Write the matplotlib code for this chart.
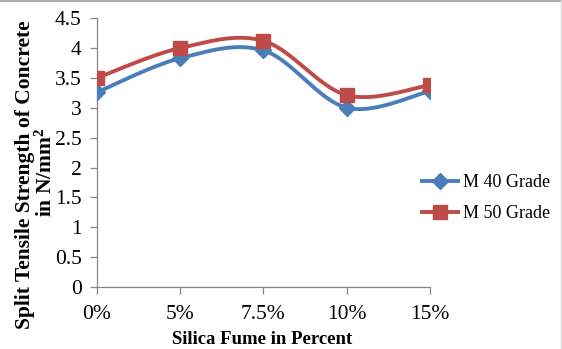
import numpy as np
import matplotlib
matplotlib.use("Agg")
import matplotlib.pyplot as plt
from matplotlib.lines import Line2D

categories = ["0%", "5%", "7.5%", "10%", "15%"]
m40 = [3.26, 3.83, 3.96, 3.00, 3.28]
m50 = [3.50, 4.00, 4.12, 3.21, 3.38]
series_names = ["M 40 Grade", "M 50 Grade"]
colors = ["#4A7EBB", "#BE4B48"]
markers = ["D", "s"]


def smooth(xs, ys, n=40):
    """Cubic Bezier smoothing through each point (Catmull-Rom tangents)."""
    xs = np.asarray(xs, float)
    ys = np.asarray(ys, float)
    px, py = [], []
    m = len(xs)
    for i in range(m - 1):
        x0, y0 = xs[max(i - 1, 0)], ys[max(i - 1, 0)]
        x1, y1 = xs[i], ys[i]
        x2, y2 = xs[i + 1], ys[i + 1]
        x3, y3 = xs[min(i + 2, m - 1)], ys[min(i + 2, m - 1)]
        c1 = (x1 + (x2 - x0) / 6, y1 + (y2 - y0) / 6)
        c2 = (x2 - (x3 - x1) / 6, y2 - (y3 - y1) / 6)
        t = np.linspace(0, 1, n)
        bx = (1 - t) ** 3 * x1 + 3 * (1 - t) ** 2 * t * c1[0] + 3 * (1 - t) * t ** 2 * c2[0] + t ** 3 * x2
        by = (1 - t) ** 3 * y1 + 3 * (1 - t) ** 2 * t * c1[1] + 3 * (1 - t) * t ** 2 * c2[1] + t ** 3 * y2
        px.extend(bx)
        py.extend(by)
    return np.array(px), np.array(py)


plt.rcParams["font.family"] = ["Liberation Serif", "DejaVu Serif"]
plt.rcParams["mathtext.fontset"] = "custom"
plt.rcParams["mathtext.rm"] = "Liberation Serif"
plt.rcParams["mathtext.bf"] = "Liberation Serif:bold"

fig = plt.figure(figsize=(5.62, 3.49), dpi=100)
ax = fig.add_axes([0.1726, 0.1777, 0.765 - 0.1726, 0.948 - 0.1777])

x = np.arange(len(categories))
for vals, col, mk in zip([m40, m50], colors, markers):
    sx, sy = smooth(x, vals)
    ax.plot(sx, sy, color=col, lw=2.8, solid_capstyle="round", zorder=2)
    ax.plot(x, vals, ls="none", marker=mk, color=col,
            markersize=8.5 if mk == "D" else 9.5, zorder=3)

ax.set_xlim(0, len(categories) - 1)
ax.set_ylim(0, 4.5)
ax.set_yticks(np.arange(0, 4.51, 0.5))
ax.set_yticklabels(["0", "0.5", "1", "1.5", "2", "2.5", "3", "3.5", "4", "4.5"])
ax.set_xticks(x)
ax.set_xticklabels(categories)

for s in ["top", "right"]:
    ax.spines[s].set_visible(False)
for s in ["left", "bottom"]:
    ax.spines[s].set_color("#868686")
    ax.spines[s].set_linewidth(0.9)
ax.tick_params(axis="both", colors="#868686", labelcolor="black",
               labelsize=15.5, length=5, width=0.9, direction="out")
ax.tick_params(axis="x", pad=8)
ax.tick_params(axis="y", pad=6)
ax.patch.set_visible(False)

# axis titles
fig.text(262 / 562, 1 - 340 / 349, "Silica Fume in Percent", fontsize=13.5,
         fontweight="bold", ha="center", va="center")
fig.text(25 / 562, 1 - 175 / 349, "Split Tensile Strength of Concrete",
         fontsize=15.5, fontweight="bold", rotation=90, ha="center", va="center")
fig.text(46 / 562, 1 - 172 / 349, r"in N/mm$\mathbf{^2}$",
         fontsize=15.5, fontweight="bold", rotation=90, ha="center", va="center")

handles = [Line2D([], [], color=c, lw=2.8, marker=mk,
                  markersize=8.5 if mk == "D" else 9.5)
           for c, mk in zip(colors, markers)]
fig.legend(handles, series_names, loc="center left",
           bbox_to_anchor=(0.722, 0.432), frameon=False, fontsize=13,
           handlelength=2.0, handletextpad=0.25, labelspacing=0.8)

# outer frame edges
fig.add_artist(Line2D([0, 1], [0.998, 0.998], color="#B0B0B0", lw=1.5,
                      transform=fig.transFigure))
fig.add_artist(Line2D([0.998, 0.998], [0, 1], color="#D8D8D8", lw=1.0,
                      transform=fig.transFigure))

fig.savefig("out.png", dpi=100)
